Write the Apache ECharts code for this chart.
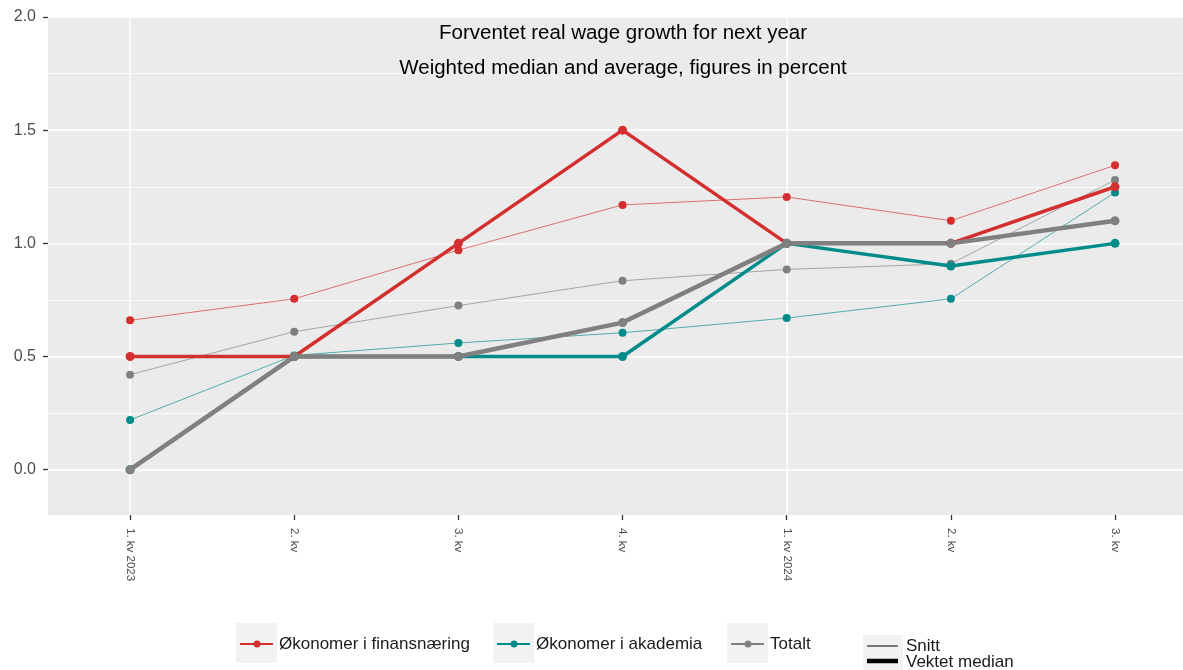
<!DOCTYPE html>
<html>
<head>
<meta charset="utf-8">
<script src="https://cdn.jsdelivr.net/npm/echarts@6/dist/echarts.min.js"></script>
<style>
html,body{margin:0;padding:0;background:#fff;}
#chart{width:1183px;height:670px;}
</style>
</head>
<body>
<div id="chart"></div>
<script>
var categories = ['1. kv 2023', '2. kv', '3. kv', '4. kv', '1. kv 2024', '2. kv', '3. kv'];
var yTicks = [0, 0.5, 1.0, 1.5, 2.0];
var yMinor = [0.25, 0.75, 1.25, 1.75];
var xMajor = [0, 4];

var finansSnitt  = [0.66, 0.755, 0.97, 1.17, 1.205, 1.10, 1.345];
var finansMedian = [0.5, 0.5, 1.0, 1.5, 1.0, 1.0, 1.25];
var akademiaSnitt  = [0.22, 0.505, 0.56, 0.605, 0.67, 0.755, 1.225];
var akademiaMedian = [0, 0.5, 0.5, 0.5, 1.0, 0.9, 1.0];
var totaltSnitt  = [0.42, 0.61, 0.725, 0.835, 0.885, 0.91, 1.28];
var totaltMedian = [0, 0.5, 0.5, 0.65, 1.0, 1.0, 1.1];

var groupNames = ['Økonomer i finansnæring', 'Økonomer i akademia', 'Totalt'];
var typeNames = ['Snitt', 'Vektet median'];
var titleText = 'Forventet real wage growth for next year';
var subtitleText = 'Weighted median and average, figures in percent';

var RED = '#D32F2F', TEAL = '#008B8B', GRAY = '#808080';
var FONT = 'Liberation Sans, Arial, Helvetica, sans-serif';

var xIdx = categories.map(function (c, i) { return i; });
function pairs(vals) { return vals.map(function (v, i) { return [i, v]; }); }

function thin(name, data, color) {
  return {
    name: name, type: 'line', data: pairs(data), z: 3,
    symbol: 'circle', symbolSize: 8, showSymbol: true,
    lineStyle: { width: 1, color: color, opacity: 0.65 },
    itemStyle: { color: color },
    emphasis: { disabled: true }, animation: false
  };
}
function thick(name, data, color, w) {
  return {
    name: name, type: 'line', data: pairs(data), z: 4,
    symbol: 'circle', symbolSize: 9, showSymbol: true,
    lineStyle: { width: w, color: color },
    itemStyle: { color: color },
    emphasis: { disabled: true }, animation: false
  };
}

var gridLines = [];
yTicks.forEach(function (v) { gridLines.push({ yAxis: v, lineStyle: { color: '#fff', width: 1.6, type: 'solid' } }); });
yMinor.forEach(function (v) { gridLines.push({ yAxis: v, lineStyle: { color: '#fff', width: 0.8, type: 'solid' } }); });
xMajor.forEach(function (v) { gridLines.push({ xAxis: v, lineStyle: { color: '#fff', width: 1.6, type: 'solid' } }); });

var chart = echarts.init(document.getElementById('chart'));

var legendKeys = [
  { x: 236, color: RED, label: groupNames[0] },
  { x: 493, color: TEAL, label: groupNames[1] },
  { x: 727, color: GRAY, label: groupNames[2] }
];
var graphics = [];
graphics.push({ type: 'text', x: 623, y: 33, z: 10, style: { text: titleText, fontSize: 20.5, fontFamily: FONT, fill: '#000', align: 'center', verticalAlign: 'middle' } });
graphics.push({ type: 'text', x: 623, y: 68, z: 10, style: { text: subtitleText, fontSize: 20.5, fontFamily: FONT, fill: '#000', align: 'center', verticalAlign: 'middle' } });
legendKeys.forEach(function (k) {
  graphics.push({ type: 'rect', shape: { x: k.x, y: 623, width: 41, height: 40 }, style: { fill: '#F2F2F2' } });
  graphics.push({ type: 'line', shape: { x1: k.x + 4, y1: 644, x2: k.x + 37, y2: 644 }, style: { stroke: k.color, lineWidth: 2 } });
  graphics.push({ type: 'circle', shape: { cx: k.x + 21, cy: 644, r: 3.5 }, style: { fill: k.color } });
  graphics.push({ type: 'text', x: k.x + 43, y: 644, style: { text: k.label, fontSize: 17, fontFamily: FONT, fill: '#1a1a1a', verticalAlign: 'middle' } });
});
graphics.push({ type: 'rect', shape: { x: 863, y: 635, width: 40, height: 35 }, style: { fill: '#F2F2F2' } });
graphics.push({ type: 'line', shape: { x1: 867, y1: 646, x2: 898, y2: 646 }, style: { stroke: '#000', lineWidth: 1 } });
graphics.push({ type: 'line', shape: { x1: 867, y1: 661, x2: 898, y2: 661 }, style: { stroke: '#000', lineWidth: 4.5 } });
graphics.push({ type: 'text', x: 906, y: 646, style: { text: typeNames[0], fontSize: 17, fontFamily: FONT, fill: '#1a1a1a', verticalAlign: 'middle' } });
graphics.push({ type: 'text', x: 906, y: 662, style: { text: typeNames[1], fontSize: 17, fontFamily: FONT, fill: '#1a1a1a', verticalAlign: 'middle' } });

var option = {
  animation: false,
  backgroundColor: '#fff',
  textStyle: { fontFamily: FONT },
  grid: { left: 48, right: 0, top: 17, bottom: 155, show: true, backgroundColor: '#EBEBEB', borderWidth: 0, containLabel: false },
  xAxis: {
    type: 'value', min: -0.5, max: 6.414,
    axisLine: { show: false, onZero: false },
    axisTick: { show: true, length: 5, lineStyle: { color: '#333', width: 1.3 }, customValues: xIdx },
    axisLabel: { rotate: -90, fontSize: 11.5, color: '#4d4d4d', margin: 13, customValues: xIdx,
      formatter: function (v) { return categories[Math.round(v)]; } },
    splitLine: { show: false }
  },
  yAxis: {
    type: 'value', min: -0.2, max: 2.0,
    axisLine: { show: false, onZero: false },
    axisTick: { show: true, length: 5, lineStyle: { color: '#333', width: 1.3 }, customValues: yTicks },
    axisLabel: { fontSize: 16, color: '#4d4d4d', margin: 12, customValues: yTicks, formatter: function (v) { return v.toFixed(1); } },
    splitLine: { show: false }
  },
  graphic: graphics,
  series: [
    { type: 'line', data: [], z: 1, silent: true, markLine: { z: 1, silent: true, symbol: ['none', 'none'], label: { show: false }, animation: false, data: gridLines } },
    thin(groupNames[0] + ' ' + typeNames[0], finansSnitt, RED),
    thin(groupNames[1] + ' ' + typeNames[0], akademiaSnitt, TEAL),
    thin(groupNames[2] + ' ' + typeNames[0], totaltSnitt, GRAY),
    thick(groupNames[0] + ' ' + typeNames[1], finansMedian, RED, 3.5),
    thick(groupNames[1] + ' ' + typeNames[1], akademiaMedian, TEAL, 3.5),
    thick(groupNames[2] + ' ' + typeNames[1], totaltMedian, GRAY, 4.5)
  ]
};
chart.setOption(option);
</script>
</body>
</html>
